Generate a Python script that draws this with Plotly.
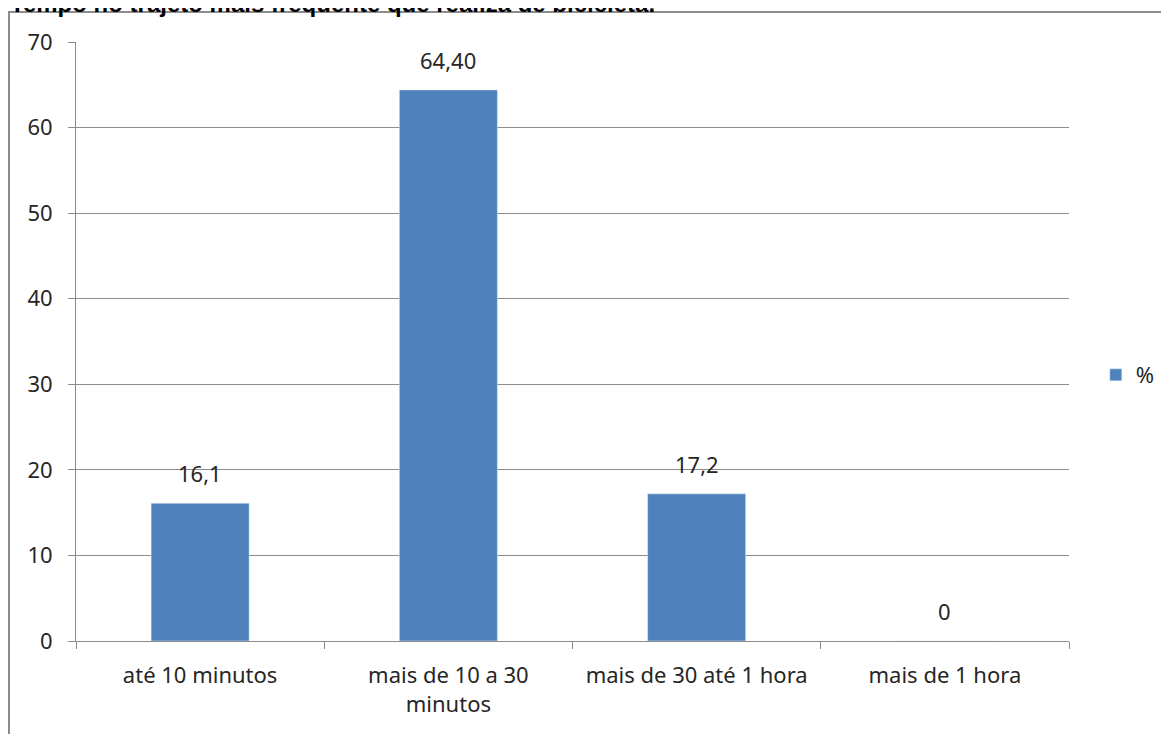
import plotly.graph_objects as go

categories = ["até 10 minutos", "mais de 10 a 30<br>minutos", "mais de 30 até 1 hora", "mais de 1 hora"]
values = [16.1, 64.40, 17.2, 0]
value_labels = ["16,1", "64,40", "17,2", "0"]
series_name = "%"
title_text = "Tempo no trajeto mais frequente que realiza de bicicleta."

BAR = "#4F81BD"
GRID = "#8C8C8C"
TXT = "#262626"
FONT = "Noto Sans"

W, H = 1161, 726
L, R, T, B = 68, 100, 34, 93
PW = W - L - R
PH = H - T - B

fig = go.Figure()
fig.add_trace(go.Bar(x=categories, y=values, name=series_name, marker_color=BAR,
                     width=0.395, showlegend=True))

for c, v, t in zip(categories, values, value_labels):
    fig.add_annotation(x=c, y=v, text=t, showarrow=False, yanchor="bottom",
                       yshift=13, font=dict(family=FONT, size=22, color=TXT))

fig.add_annotation(xref="paper", yref="paper", x=-L / PW, y=1, xanchor="left",
                   yanchor="middle", yshift=39, text="<b>" + title_text + "</b>",
                   showarrow=False, font=dict(family="Liberation Sans", size=24, color="#000000"))

fig.add_shape(type="rect", xref="paper", yref="paper",
              x0=(1 - L) / PW, x1=(W + 10 - L) / PW,
              y0=(T + PH - (H + 10)) / PH, y1=(T + PH - 4) / PH,
              line=dict(color="#8C8C8C", width=2), fillcolor="rgba(0,0,0,0)", layer="below")

fig.update_layout(
    width=W, height=H,
    margin=dict(l=L, r=R, t=T, b=B, autoexpand=False),
    paper_bgcolor="white", plot_bgcolor="white",
    legend=dict(x=1.027, y=0.444, xanchor="left", yanchor="middle",
                font=dict(family=FONT, size=22, color=TXT), bgcolor="rgba(0,0,0,0)"),
    xaxis=dict(type="category", showgrid=False, showline=True, linecolor=GRID, linewidth=1,
               ticks="outside", tickson="boundaries", ticklen=7, tickcolor=GRID,
               tickfont=dict(family=FONT, size=22, color=TXT), ticklabelstandoff=15),
    yaxis=dict(range=[0, 70], dtick=10, showgrid=True, gridcolor=GRID, gridwidth=1,
               showline=True, linecolor=GRID, linewidth=1, zeroline=False,
               ticks="outside", ticklen=7, tickcolor=GRID,
               tickfont=dict(family=FONT, size=22, color=TXT), ticklabelstandoff=11),
)

fig.write_html("out.html")
